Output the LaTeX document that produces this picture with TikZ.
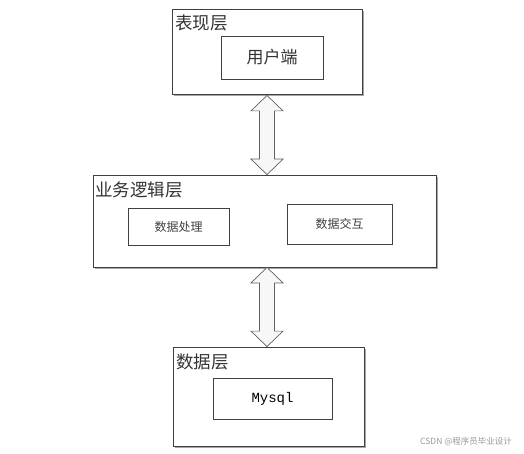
\documentclass[tikz,border=0pt]{standalone}
\usepackage{fontspec}
\setmainfont{Liberation Serif}
\newfontfamily\cjk{Noto Sans CJK SC}[Scale=1]
\newfontfamily\monof{Liberation Mono}
\usetikzlibrary{calc,shadows}
\definecolor{lineC}{HTML}{404040}
\definecolor{arrC}{HTML}{606060}
\tikzset{
  layerbox/.style={draw=lineC, line width=0.8pt, fill=white, minimum width=#1, inner sep=0pt,
    drop shadow={shadow xshift=1.6pt, shadow yshift=-1.6pt, fill=black!35, opacity=1}},
  innerbox/.style={draw=lineC, line width=0.9pt, fill=white, inner sep=0pt},
  layerlabel/.style={anchor=west, inner sep=0pt, font=\cjk\fontsize{17.5}{19}\selectfont, text=black!80},
  boxtext/.style={font=\cjk\fontsize{17}{19}\selectfont, text=black!80},
  smalltext/.style={font=\cjk\fontsize{12}{14}\selectfont, text=black!75},
  blockarrow/.style={draw=arrC, line width=0.7pt, fill=black!3, line join=miter}
}
\begin{document}
\begin{tikzpicture}[x=1pt,y=-1pt]
\useasboundingbox (0,0) rectangle (524,454);
% layers
\node[layerbox=190pt, minimum height=85pt] (pres) at (267,51.5) {};
\node[layerbox=343pt, minimum height=92pt] (logic) at (264.5,221) {};
\node[layerbox=191pt, minimum height=99pt] (data) at (268.5,396.5) {};
% labels
\node[layerlabel] (presL) at (175,23) {表现层};
\node[layerlabel] (logicL) at (95,190) {业务逻辑层};
\node[layerlabel] (dataL) at (176,361.5) {数据层};
% inner boxes
\node[innerbox, minimum width=102pt, minimum height=43pt, boxtext] (client) at (272,57.5) {用户端};
\node[innerbox, minimum width=101pt, minimum height=37pt, smalltext] (proc) at (178.5,226.5) {数据处理};
\node[innerbox, minimum width=105pt, minimum height=40pt, smalltext] (inter) at (339.5,224) {数据交互};
\node[innerbox, minimum width=119pt, minimum height=41pt, font=\monof\fontsize{14}{16}\selectfont] (mysql) at (272.5,398.5) {Mysql};
% block arrows
\coordinate (t1) at ($(pres.south -| 267,0)+(0,1)$);
\coordinate (b1) at (t1 |- logic.north);
\coordinate (t2) at (t1 |- logic.south);
\coordinate (b2) at (t1 |- data.north);
\foreach \T/\B in {t1/b1, t2/b2}{
  \draw[blockarrow] (\T) -- ($(\T)+(16pt,-15.5pt)$) -- ($(\T)+(7.5pt,-15.5pt)$)
    -- ($(\B)+(7.5pt,15.5pt)$) -- ($(\B)+(16pt,15.5pt)$) -- (\B)
    -- ($(\B)+(-16pt,15.5pt)$) -- ($(\B)+(-7.5pt,15.5pt)$)
    -- ($(\T)+(-7.5pt,-15.5pt)$) -- ($(\T)+(-16pt,-15.5pt)$) -- cycle;
}
% watermark
\node[font=\cjk\fontsize{8.5}{10}\selectfont, text=black!40, inner sep=0pt] (wm) at (466,441.5) {CSDN @程序员毕业设计};
\end{tikzpicture}
\end{document}
